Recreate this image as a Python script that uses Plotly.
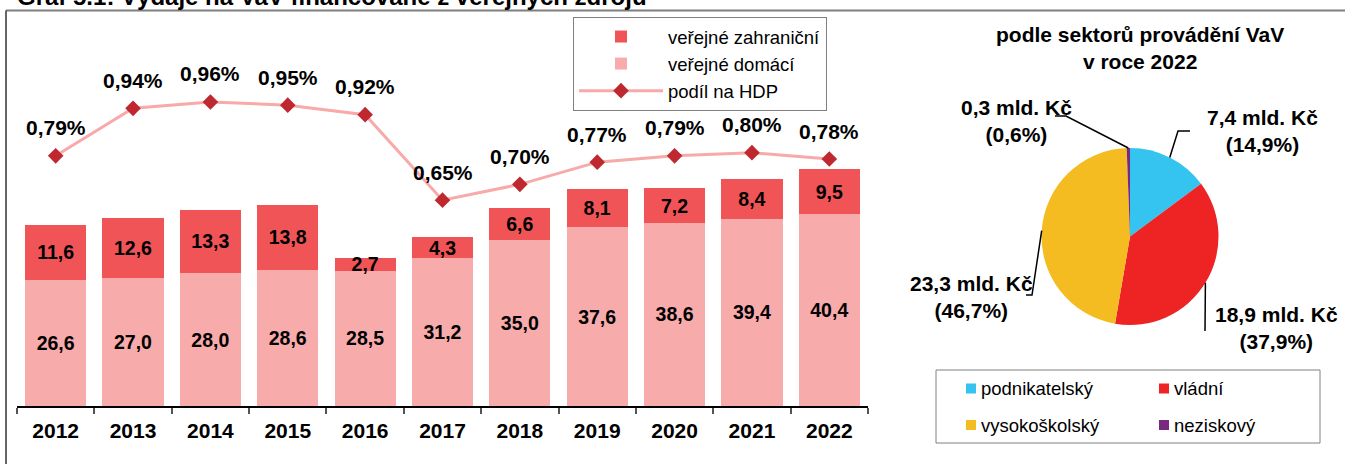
import math
import plotly.graph_objects as go

W, H = 1345, 464

# ---------------- data ----------------
years = ["2012", "2013", "2014", "2015", "2016", "2017", "2018", "2019", "2020", "2021", "2022"]
domestic = [26.6, 27.0, 28.0, 28.6, 28.5, 31.2, 35.0, 37.6, 38.6, 39.4, 40.4]
foreign = [11.6, 12.6, 13.3, 13.8, 2.7, 4.3, 6.6, 8.1, 7.2, 8.4, 9.5]
gdp_share = [0.79, 0.94, 0.96, 0.95, 0.92, 0.65, 0.70, 0.77, 0.79, 0.80, 0.78]
series_names = ["veřejné zahraniční", "veřejné domácí", "podíl na HDP"]

sectors = ["podnikatelský", "vládní", "vysokoškolský", "neziskový"]
sector_values = [7.4, 18.9, 23.3, 0.3]
sector_pct = [14.9, 37.9, 46.7, 0.6]

title_main = "Graf 5.1: Výdaje na VaV financované z veřejných zdrojů"
title_pie = "podle sektorů provádění VaV<br>v roce 2022"

# ---------------- style ----------------
FONT = "Liberation Sans, Arial, sans-serif"
C_FOREIGN = "#F05456"
C_DOMESTIC = "#F8ABAB"
C_LINE = "#F8A9A9"
C_MARK = "#BE282E"
PIE_COLORS = ["#35C3EF", "#EE2324", "#F5BC21", "#7A2A7E"]


def px(x):
    return x / W


def py(y):
    return 1 - y / H


def fmt(v):
    return f"{v:.1f}".replace(".", ",")


def fmt2(v):
    return f"{v:.2f}".replace(".", ",")


fig = go.Figure()

fig.add_trace(go.Bar(
    x=years, y=domestic, name=series_names[1], legendrank=2,
    marker=dict(color=C_DOMESTIC, line=dict(width=0)),
    texttemplate="%{y:.1f}", textposition="inside", insidetextanchor="middle",
    constraintext="none",
    textfont=dict(family=FONT, size=19.5, color="black", weight="bold"),
))
fig.add_trace(go.Bar(
    x=years, y=foreign, name=series_names[0], legendrank=1,
    marker=dict(color=C_FOREIGN, line=dict(width=0)),
    texttemplate="%{y:.1f}", textposition="inside", insidetextanchor="middle",
    constraintext="none",
    textfont=dict(family=FONT, size=19.5, color="black", weight="bold"),
))
fig.add_trace(go.Scatter(
    x=years, y=gdp_share, name=series_names[2], legendrank=3, yaxis="y2",
    mode="lines+markers",
    line=dict(color=C_LINE, width=3),
    marker=dict(symbol="diamond", size=12, color=C_MARK, line=dict(width=0)),
))

# percentage labels above the line points (x given as category serial number)
annotations = []
for i, v in enumerate(gdp_share):
    annotations.append(dict(
        x=i, y=v, xref="x", yref="y2", yshift=28, showarrow=False,
        text=fmt2(v) + "%",
        font=dict(family=FONT, size=21, color="black", weight="bold"),
    ))

# ---------------- pie ----------------
cx, cy, R = 1130, 236.5, 88.5
fig.add_trace(go.Pie(
    labels=sectors, values=sector_values, sort=False, direction="clockwise",
    rotation=0, textinfo="none", showlegend=False,
    marker=dict(colors=PIE_COLORS, line=dict(width=0)),
    domain=dict(x=[px(cx - R), px(cx + R)], y=[py(cy + R), py(cy - R)]),
))

# pie labels and leader lines
label_pos = [(1262.5, 131), (1276.7, 327.5), (971.7, 296.5), (1016, 120.5)]
bends = [
    [(1178, 131), (1190, 131)],
    [(1205, 331)],
    [(1032, 295), (1026, 295)],
    [(1066, 116), (1055, 116)],
]
shapes = []
total = sum(sector_values)
cum = 0.0
for i, (lab, v, p) in enumerate(zip(sectors, sector_values, sector_pct)):
    theta = 2 * math.pi * (cum + v / 2) / total
    cum += v
    ex, ey = cx + R * math.sin(theta), cy - R * math.cos(theta)
    pts = [(ex, ey)] + bends[i]
    path = "M " + " L ".join(f"{px(a):.5f},{py(b):.5f}" for a, b in pts)
    shapes.append(dict(type="path", xref="paper", yref="paper", path=path,
                       line=dict(color="black", width=1.5)))
    lx, ly = label_pos[i]
    annotations.append(dict(
        x=px(lx), y=py(ly), xref="paper", yref="paper", showarrow=False,
        xanchor="center", yanchor="middle", align="center",
        text=f"{fmt(v)} mld. Kč<br>({fmt(p)}%)",
        font=dict(family=FONT, size=21, color="black", weight="bold"),
    ))

# pie title
annotations.append(dict(
    x=px(1140), y=py(48), xref="paper", yref="paper", showarrow=False,
    xanchor="center", yanchor="middle", align="center", text=title_pie,
    font=dict(family=FONT, size=21, color="black", weight="bold"),
))

# main (cropped) title
annotations.append(dict(
    x=px(15), y=py(-4), xref="paper", yref="paper", showarrow=False,
    xanchor="left", yanchor="middle", text=title_main,
    font=dict(family=FONT, size=24, color="black", weight="bold"),
))

# pie legend (custom, two columns)
leg_cols = [966, 1159]
leg_rows = [388.5, 425]
shapes.append(dict(type="rect", xref="paper", yref="paper",
                   x0=px(936), x1=px(1320), y0=py(443), y1=py(370),
                   line=dict(color="#808080", width=1), fillcolor="white", layer="below"))
for i, (lab, col) in enumerate(zip(sectors, PIE_COLORS)):
    sx = leg_cols[i % 2]
    sy = leg_rows[i // 2]
    shapes.append(dict(type="rect", xref="paper", yref="paper",
                       x0=px(sx), x1=px(sx + 10), y0=py(sy + 5), y1=py(sy - 5),
                       line=dict(width=0), fillcolor=col))
    annotations.append(dict(
        x=px(sx + 13), y=py(sy), xref="paper", yref="paper", showarrow=False,
        xanchor="left", yanchor="middle", text=lab,
        font=dict(family=FONT, size=18.5, color="black"),
    ))

# outer frame (top and left edges visible)
shapes.append(dict(type="line", xref="paper", yref="paper",
                   x0=px(6), x1=1.0, y0=py(10.5), y1=py(10.5),
                   line=dict(color="#7F7F7F", width=2)))
shapes.append(dict(type="line", xref="paper", yref="paper",
                   x0=px(6), x1=px(6), y0=py(10.5), y1=0,
                   line=dict(color="#333333", width=1.5)))

fig.update_layout(
    width=W, height=H, autosize=False,
    margin=dict(l=0, r=0, t=0, b=0),
    paper_bgcolor="white", plot_bgcolor="white",
    separators=", ",
    barmode="stack", bargap=0.21,
    font=dict(family=FONT, color="black"),
    xaxis=dict(
        domain=[px(17), px(868)], type="category",
        range=[-0.5, len(years) - 0.5], autorange=False,
        showline=True, linecolor="black", linewidth=1.5,
        ticks="outside", ticklen=6, tickwidth=1.5, tickcolor="#555555",
        tickson="boundaries", showgrid=False, ticklabelstandoff=5,
        tickfont=dict(family=FONT, size=21, color="black", weight="bold"),
    ),
    yaxis=dict(domain=[py(406), py(26)], range=[0, 80], visible=False, showgrid=False),
    yaxis2=dict(overlaying="y", range=[0, 1.2], visible=False, showgrid=False),
    legend=dict(
        x=px(573), y=py(17), xanchor="left", yanchor="top",
        orientation="v", traceorder="normal",
        bordercolor="#808080", borderwidth=1, bgcolor="white",
        itemwidth=84,
        font=dict(family=FONT, size=18.5, color="black"),
    ),
    showlegend=True,
    annotations=annotations,
    shapes=shapes,
)

fig.write_html(
    "out.html",
    config={"displayModeBar": False},
    post_script="document.body.style.margin='0';document.body.style.overflow='hidden';",
)
